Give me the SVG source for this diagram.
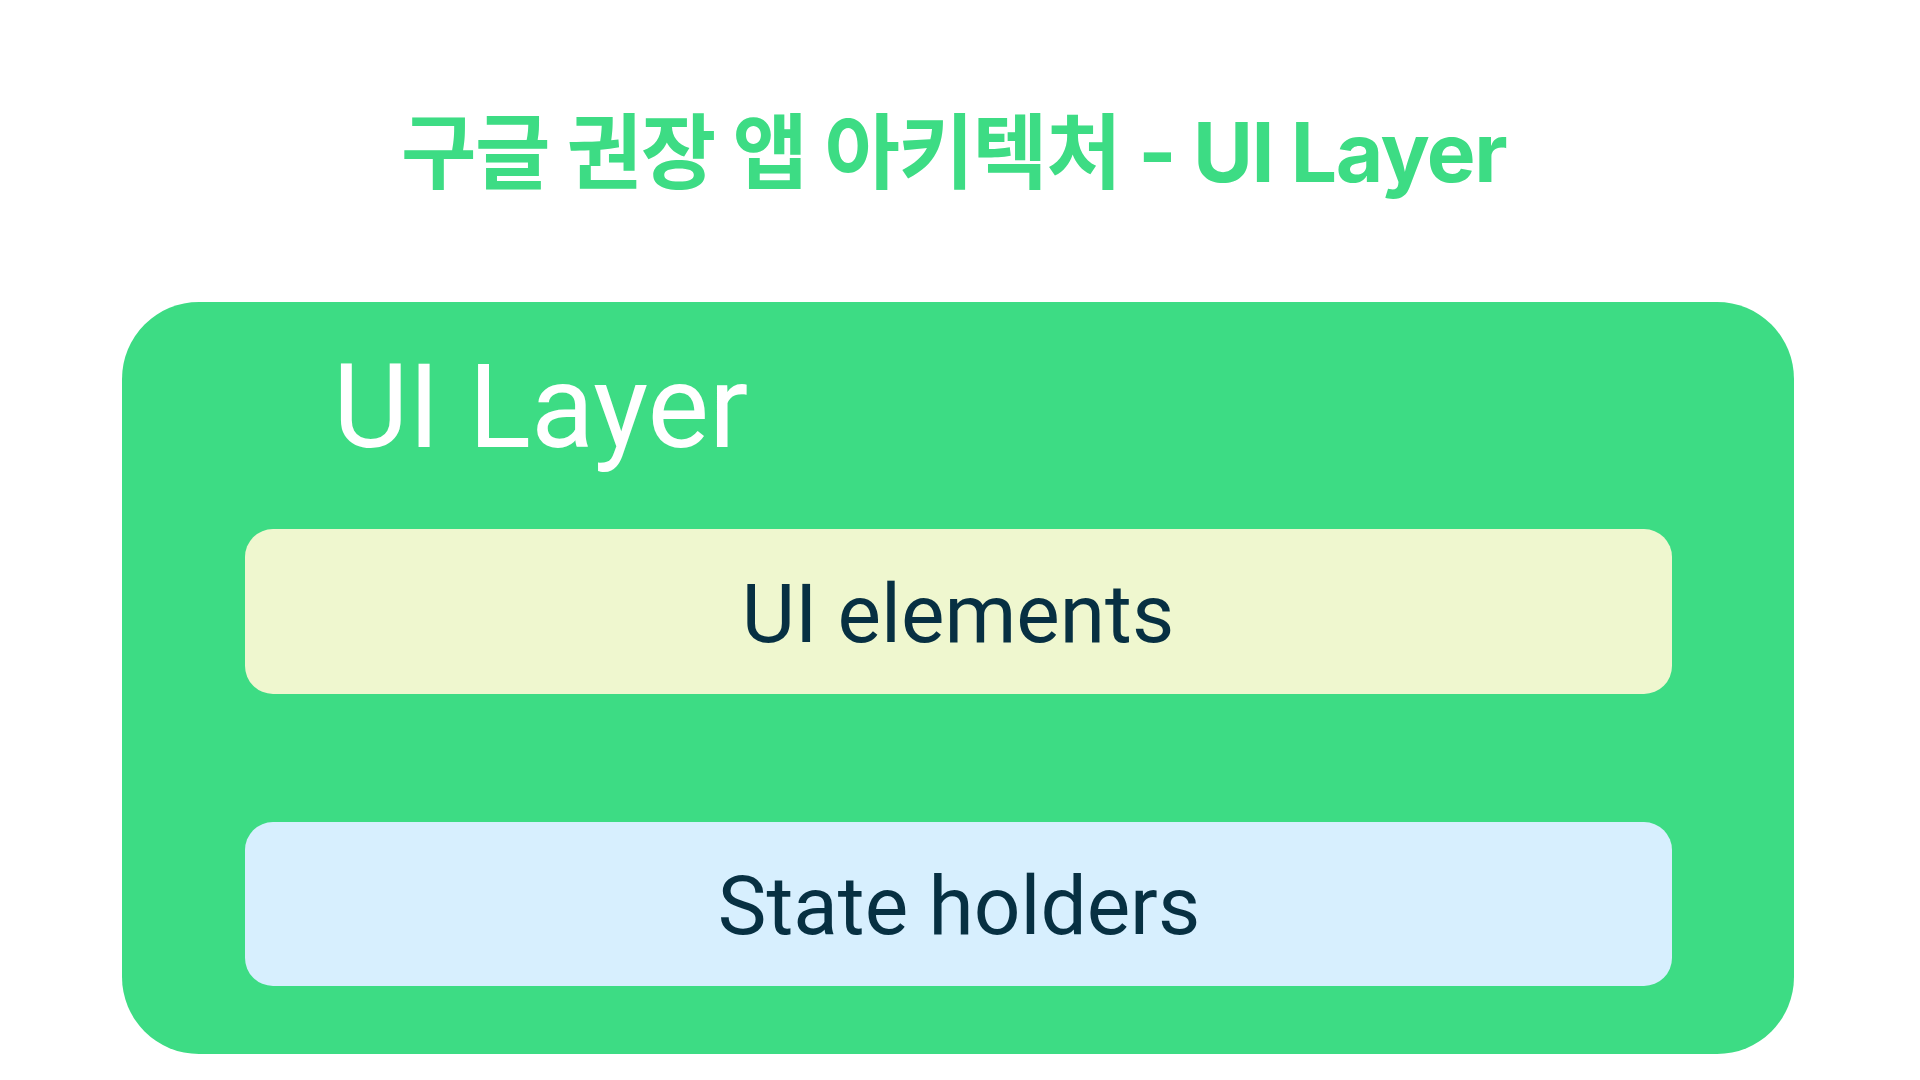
<svg xmlns="http://www.w3.org/2000/svg" width="1920" height="1080" viewBox="0 0 1920 1080">
  <style>
    .title { font-family: Inter, "Noto Sans CJK KR", sans-serif; font-weight: 700; font-size: 82px; letter-spacing: -1.5px; fill: #3ddc84; }
    .layer { font-family: Roboto, "Noto Sans", sans-serif; font-weight: 400; font-size: 116px; fill: #ffffff; }
    .label { font-family: Roboto, "Noto Sans", sans-serif; font-weight: 400; font-size: 82px; fill: #073042; text-anchor: middle; }
  </style>
  <rect x="0" y="0" width="1920" height="1080" fill="#ffffff"/>
  <g id="title">
    <text class="title" x="401" y="182">구글 권장 앱 아키텍처 - UI Layer</text>
  </g>
  <g id="ui-layer">
    <rect x="122" y="302" width="1672" height="752" rx="77" ry="77" fill="#3ddc84"/>
    <text class="layer" x="333" y="447">UI Layer</text>
  </g>
  <g id="ui-elements">
    <rect x="245" y="529" width="1427" height="165" rx="28" ry="28" fill="#eff7cf"/>
    <text class="label" x="958" y="642">UI elements</text>
  </g>
  <g id="state-holders">
    <rect x="245" y="822" width="1427" height="164" rx="28" ry="28" fill="#d7effe"/>
    <text class="label" x="959" y="934">State holders</text>
  </g>
  <g id="connectors"></g>
</svg>
